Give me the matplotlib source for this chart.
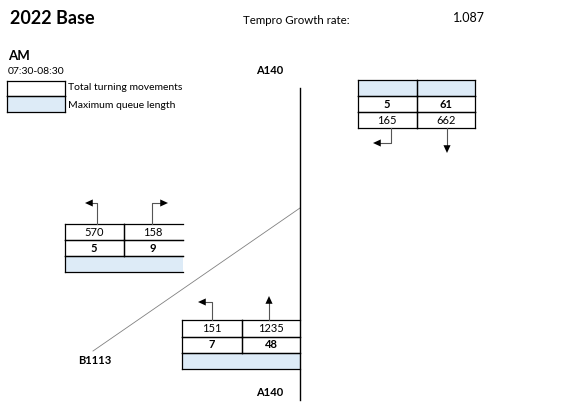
import matplotlib.pyplot as plt
from matplotlib.patches import Rectangle

# header values
title = '2022 Base'
growth_label = 'Tempro Growth rate:'
growth_rate = '1.087'
period = 'AM'
period_time = '07:30-08:30'
legend_labels = ['Total turning movements', 'Maximum queue length']

# junction values (left column, right column)
north_turns = [165, 662]
north_queue = [5, 61]
west_turns = [570, 158]
west_queue = [5, 9]
south_turns = [151, 1235]
south_queue = [7, 48]

BLUE = '#DDEBF7'
STEM = '#555555'
FONT = ['Lato', 'DejaVu Sans']

fig = plt.figure(figsize=(5.85, 4.04), dpi=100)
ax = fig.add_axes([0, 0, 1, 1])
ax.set_xlim(0, 585)
ax.set_ylim(404, 0)
ax.axis('off')


def cell(x, y, w, h, fill='white', edges='lrtb'):
    ax.add_patch(Rectangle((x, y), w, h, facecolor=fill, edgecolor='none', zorder=1))
    segs = {'l': ([x, x], [y, y + h]), 'r': ([x + w, x + w], [y, y + h]),
            't': ([x, x + w], [y, y]), 'b': ([x, x + w], [y + h, y + h])}
    for e in edges:
        ax.plot(*segs[e], color='black', lw=0.9, zorder=2, solid_capstyle='projecting')


def txt(x, y, s, size=8, bold=False, ha='center'):
    ax.text(x, y, s, fontsize=size, fontweight='bold' if bold else 'normal',
            ha=ha, va='center', family=FONT, zorder=3)


def head(xy, frm):
    ax.annotate('', xy=xy, xytext=frm,
                arrowprops=dict(arrowstyle='-|>,head_length=0.7,head_width=0.32',
                                color='black', lw=0.0,
                                mutation_scale=8, shrinkA=0, shrinkB=0))


def bent_arrow(x0, y0, ybend, xtip):
    # stem from table then horizontal to arrow tip
    ax.plot([x0, x0, xtip + 4 * (1 if xtip < x0 else -1)], [y0, ybend, ybend],
            color=STEM, lw=0.8, zorder=2)
    head((xtip, ybend), (x0, ybend))


def straight_arrow(x0, y0, ytip):
    ax.plot([x0, x0], [y0, ytip + 4 * (1 if ytip < y0 else -1)], color=STEM, lw=0.8, zorder=2)
    head((x0, ytip), (x0, y0))


# header
txt(10, 18, title, size=13, bold=True, ha='left')
txt(243, 20, growth_label, size=8.3, ha='left')
txt(485, 18, growth_rate, size=9, ha='right')
txt(8, 56, period, size=9.5, bold=True, ha='left')
txt(8, 71, period_time, size=7.5, ha='left')

# legend
cell(7, 81, 58, 15)
cell(7, 96, 58, 16, fill=BLUE)
txt(68, 88, legend_labels[0], size=7.5, ha='left')
txt(68, 105, legend_labels[1], size=7.5, ha='left')

# roads
ax.plot([300, 300], [88, 400], color='black', lw=1.0, zorder=2)
ax.plot([93, 300], [351, 208], color='#808080', lw=0.6, zorder=1)
txt(270, 71, 'A140', bold=True)
txt(270, 393, 'A140', bold=True)
txt(95, 360, 'B1113', bold=True)

# north approach table
cell(358, 80, 59, 16, fill=BLUE)
cell(417, 80, 58, 16, fill=BLUE)
cell(358, 96, 59, 16)
cell(417, 96, 58, 16)
cell(358, 112, 59, 16)
cell(417, 112, 58, 16)
txt(387, 104, str(north_queue[0]), bold=True)
txt(446, 104, str(north_queue[1]), bold=True)
txt(387, 120, str(north_turns[0]))
txt(446, 120, str(north_turns[1]))
bent_arrow(391, 128, 143, 373)
straight_arrow(447, 128, 153)

# west approach table
cell(65, 224, 59, 16)
cell(124, 224, 59, 16, edges='ltb')
cell(65, 240, 59, 16)
cell(124, 240, 59, 16, edges='ltb')
cell(65, 256, 118, 16, fill=BLUE, edges='ltb')
txt(94, 232, str(west_turns[0]))
txt(153, 232, str(west_turns[1]))
txt(94, 248, str(west_queue[0]), bold=True)
txt(153, 248, str(west_queue[1]), bold=True)
bent_arrow(97, 224, 203, 85)
bent_arrow(152, 224, 203, 168)

# south approach table
cell(182, 320, 60, 17)
cell(242, 320, 58, 17, edges='ltb')
cell(182, 337, 60, 16)
cell(242, 337, 58, 16, edges='ltb')
cell(182, 353, 118, 16, fill=BLUE, edges='ltb')
txt(212, 328, str(south_turns[0]))
txt(271, 328, str(south_turns[1]))
txt(212, 345, str(south_queue[0]), bold=True)
txt(271, 345, str(south_queue[1]), bold=True)
bent_arrow(212, 320, 302, 198)
straight_arrow(269, 320, 296)

fig.savefig('out.png', dpi=100)
